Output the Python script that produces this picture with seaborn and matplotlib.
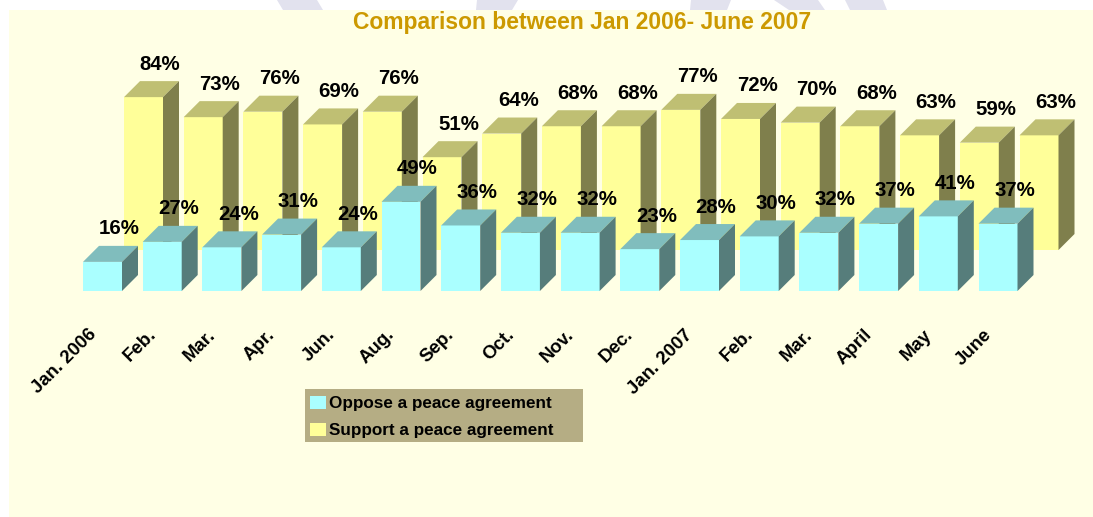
import matplotlib
matplotlib.use('Agg')
import matplotlib.pyplot as plt
from matplotlib.patches import Patch, Polygon, Rectangle
from matplotlib.transforms import IdentityTransform, Affine2D
import seaborn as sns

# Data
months = ['Jan. 2006', 'Feb.', 'Mar.', 'Apr.', 'Jun.', 'Aug.', 'Sep.', 'Oct.',
          'Nov.', 'Dec.', 'Jan. 2007', 'Feb. ', 'Mar. ', 'April', 'May', 'June']
tick_labels = [m.strip() for m in months]
oppose = [16, 27, 24, 31, 24, 49, 36, 32, 32, 23, 28, 30, 32, 37, 41, 37]
support = [84, 73, 76, 69, 76, 51, 64, 68, 68, 77, 72, 70, 68, 63, 59, 63]

W, H = 1093, 517
DEPTH = 16

sns.set_theme(style='white')
plt.rcParams['font.family'] = ['Liberation Sans', 'DejaVu Sans']

fig = plt.figure(figsize=(W / 100, H / 100), dpi=100, facecolor='white')


def px_rect(x0, y0, x1, y1):
    # pixel box measured from the top left -> figure fractions
    return [x0 / W, 1 - y1 / H, (x1 - x0) / W, (y1 - y0) / H]


# Slide background
for top_l, top_r, bot_l, bot_r in [(277, 317, 283, 323), (477, 518, 476, 512),
                                   (691, 731, 690, 727), (774, 818, 789, 825),
                                   (845, 883, 850, 887)]:
    fig.add_artist(Polygon([(top_l / W, 1), (top_r / W, 1), (bot_r / W, 1 - 10 / H), (bot_l / W, 1 - 10 / H)],
                           closed=True, transform=fig.transFigure, color='#E2E2EE', lw=0, zorder=-2))
panel = px_rect(9, 10, 1093, 517)
fig.add_artist(Rectangle(panel[:2], panel[2], panel[3], transform=fig.transFigure,
                         color='#FFFFE5', lw=0, zorder=-1))


def bars_3d(pos, values, face, top, side, z):
    ax = fig.add_axes(pos, zorder=z)
    sns.barplot(x=months, y=values, color=face, saturation=1, width=39 / 59.7, linewidth=0, ax=ax)
    ax.set_xlim(-0.5, len(months) - 0.5)
    ax.set_ylim(0, 100)
    ax.patch.set_alpha(0)
    sns.despine(ax=ax, left=True, bottom=True)
    ax.set_yticks([])
    ax.set_ylabel('')
    ax.tick_params(axis='x', length=0)

    # top and side faces, taken from where seaborn put each bar
    for bar, val in zip(ax.patches, values):
        (x0, y0), (x1, y1) = ax.transData.transform([(bar.get_x(), 0), (bar.get_x() + bar.get_width(), val)])
        ax.add_artist(Polygon([(x0, y1), (x1, y1), (x1 + DEPTH, y1 + DEPTH), (x0 + DEPTH, y1 + DEPTH)],
                              closed=True, transform=IdentityTransform(), color=top, lw=0, clip_on=False))
        ax.add_artist(Polygon([(x1, y0), (x1 + DEPTH, y0 + DEPTH), (x1 + DEPTH, y1 + DEPTH), (x1, y1)],
                              closed=True, transform=IdentityTransform(), color=side, lw=0, clip_on=False))
        ax.annotate(f'{val}%', (bar.get_x() + bar.get_width() / 2, val), xytext=(16.5, 33),
                    textcoords='offset pixels', ha='center', va='center',
                    fontsize=14.7, fontweight='bold', color='black', zorder=10, annotation_clip=False)
    return ax


# Back row first, front row overlaps it
back = bars_3d(px_rect(113.65, 68, 1068.85, 250), support, '#FFFF99', '#BFBF73', '#7F7F4C', 1)
back.set_xticks(range(len(months)))
back.set_xticklabels([])

front = bars_3d(px_rect(72.65, 109, 1027.85, 291), oppose, '#AAFFFF', '#80BDBD', '#567D7B', 2)
front.set_xticks(range(len(months)))
front.set_xticklabels(tick_labels, rotation=45, ha='right', rotation_mode='anchor',
                      fontsize=13.4, fontweight='bold', color='black')
front.tick_params(axis='x', pad=26)
for lab in front.get_xticklabels():
    lab.set_transform(lab.get_transform() + Affine2D().translate(-15, 1))

fig.text(582 / W, 1 - 22 / H, 'Comparison between Jan 2006- June 2007', ha='center', va='center',
         fontsize=16.45, fontweight='bold', color='#CC9900')

legend_box = px_rect(305, 389, 583, 442)
fig.add_artist(Rectangle(legend_box[:2], legend_box[2], legend_box[3], transform=fig.transFigure,
                         color='#B5AD84', lw=0, zorder=4))
handles = [Patch(facecolor='#AAFFFF', edgecolor='none', label='Oppose a peace agreement'),
           Patch(facecolor='#FFFF99', edgecolor='none', label='Support a peace agreement')]
leg = fig.legend(handles=handles, loc='upper left', bbox_to_anchor=(310 / W, 1 - 396 / H),
                 frameon=False, prop={'size': 12.3, 'weight': 'bold'}, labelcolor='black',
                 handlelength=0.94, handleheight=0.8, handletextpad=0.18, labelspacing=0.67,
                 borderpad=0, borderaxespad=0)
leg.set_zorder(5)

fig.savefig('out.png', dpi=100, facecolor='white')
